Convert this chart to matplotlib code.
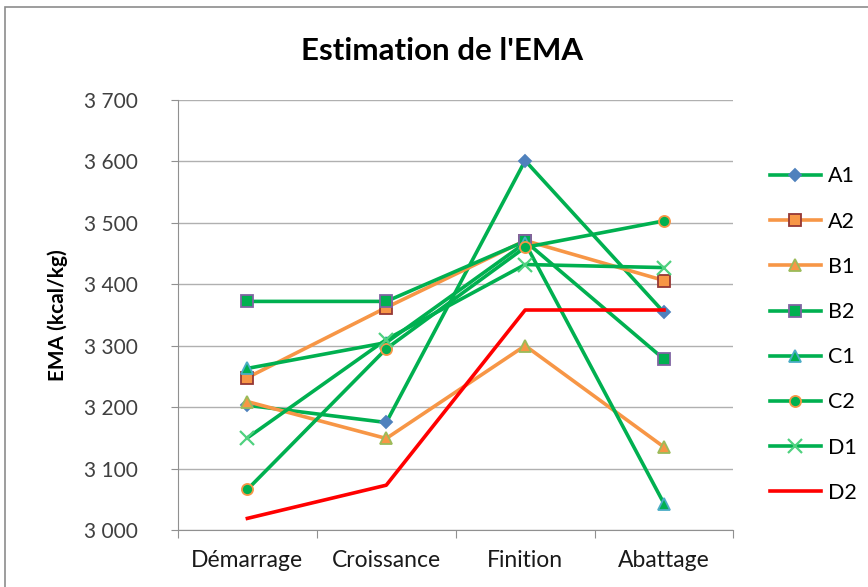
import matplotlib.pyplot as plt
from matplotlib.patches import Rectangle
from matplotlib.ticker import FuncFormatter, FixedLocator

# Data
stages = ['Démarrage', 'Croissance', 'Finition', 'Abattage']
a1 = [3203, 3175, 3601, 3354]
a2 = [3248, 3362, 3471, 3406]
b1 = [3209, 3149, 3300, 3135]
b2 = [3372, 3372, 3470, 3278]
c1 = [3263, 3305, 3467, 3043]
c2 = [3066, 3295, 3460, 3503]
d1 = [3150, 3310, 3432, 3427]
d2 = [3019, 3073, 3358, 3358]

green = '#00B050'
orange = '#F79646'
red = '#FF0000'

plt.rcParams['font.family'] = ['Lato', 'DejaVu Sans']

fig = plt.figure(figsize=(8.68, 5.87), dpi=100)
ax = fig.add_axes([0.205, 0.097, 0.64, 0.733])

x = range(len(stages))
series = [
    ('A1', a1, green, dict(marker='D', markersize=6, markerfacecolor='#4F81BD', markeredgecolor='#4F81BD')),
    ('A2', a2, orange, dict(marker='s', markersize=8, markerfacecolor=orange, markeredgecolor='#953735')),
    ('B1', b1, orange, dict(marker='^', markersize=9, markerfacecolor=orange, markeredgecolor='#9BBB59')),
    ('B2', b2, green, dict(marker='s', markersize=8, markerfacecolor=green, markeredgecolor='#8064A2')),
    ('C1', c1, green, dict(marker='^', markersize=9, markerfacecolor=green, markeredgecolor='#4BACC6')),
    ('C2', c2, green, dict(marker='o', markersize=8, markerfacecolor=green, markeredgecolor=orange)),
    ('D1', d1, green, dict(marker='x', markersize=10, markeredgecolor='#4FD17F', markeredgewidth=1.6)),
    ('D2', d2, red, dict()),
]
for name, vals, col, mk in series:
    kw = dict(markeredgewidth=1.3)
    kw.update(mk)
    ax.plot(x, vals, color=col, linewidth=2.6, label=name, **kw)

ax.set_xlim(-0.5, 3.5)
ax.set_ylim(3000, 3700)
ax.set_yticks(range(3000, 3701, 100))
ax.yaxis.set_major_formatter(FuncFormatter(lambda v, p: '{:,.0f}'.format(v).replace(',', ' ')))
ax.grid(axis='y', color='#B0B0B0', linewidth=1)
ax.set_axisbelow(True)

ax.xaxis.set_major_locator(FixedLocator([-0.5, 0.5, 1.5, 2.5, 3.5]))
ax.xaxis.set_major_formatter(FuncFormatter(lambda v, p: ''))
ax.xaxis.set_minor_locator(FixedLocator(list(x)))
ax.set_xticklabels(stages, minor=True)
ax.tick_params(axis='x', which='minor', length=0, labelsize=16.5, pad=14, colors='#1a1a1a')
ax.tick_params(axis='x', which='major', length=6, color='#909090')
ax.tick_params(axis='y', length=5, color='#909090', labelsize=15, labelcolor='#404040', pad=24)

for s in ['top', 'right']:
    ax.spines[s].set_visible(False)
for s in ['left', 'bottom']:
    ax.spines[s].set_color('#909090')

ax.set_ylabel('EMA (kcal/kg)', fontsize=15, fontweight='bold')
ax.yaxis.set_label_coords(-0.198, 0.5)
fig.text(0.509, 0.913, "Estimation de l'EMA", ha='center', va='center',
         fontsize=22.5, fontweight='bold')

ax.legend(loc='upper left', bbox_to_anchor=(1.03, 0.89), frameon=False,
          fontsize=15.5, labelspacing=1.17, handlelength=2.4, handletextpad=0.3)

fig.patches.append(Rectangle((5 / 868, -0.1), 1.2, 1 - 7 / 587 + 0.1,
                             transform=fig.transFigure, fill=False,
                             edgecolor='#8c8c8c', linewidth=1.2))

fig.savefig('out.png', dpi=100)
